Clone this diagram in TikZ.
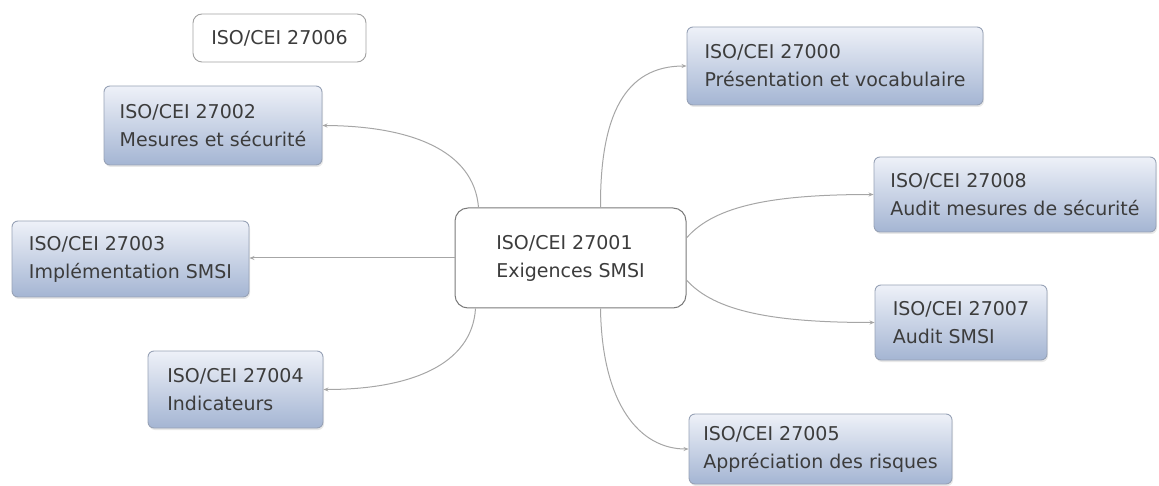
\documentclass[tikz,border=0pt]{standalone}
\usepackage{fontspec}
\newfontfamily\boxfont{DejaVu Sans}
\usetikzlibrary{arrows.meta,shadows}

\definecolor{txt}{HTML}{3C3C3C}
\definecolor{edgegray}{HTML}{A6A6A6}
\definecolor{boxtop}{HTML}{EEF1F8}
\definecolor{boxbot}{HTML}{A4B5D3}
\definecolor{boxline}{HTML}{97A2B6}
\definecolor{rootline}{HTML}{7A7A7A}

\tikzset{
  topic/.style={draw=boxline, line width=0.9pt, rounded corners=6pt,
    top color=boxtop, bottom color=boxbot, inner sep=0pt, align=left,
    text=txt, font=\boxfont\fontsize{19}{28}\selectfont,
    drop shadow={opacity=0.18, shadow xshift=1pt, shadow yshift=-2pt}},
  plain/.style={draw=rootline!70, line width=0.9pt, rounded corners=9pt,
    fill=white, inner sep=0pt, align=left, text=txt,
    font=\boxfont\fontsize{19}{28}\selectfont},
  root/.style={draw=rootline, line width=1pt, rounded corners=13pt,
    fill=white, inner sep=0pt, align=left, text=txt,
    font=\boxfont\fontsize{19}{28}\selectfont},
  link/.style={draw=edgegray, line width=1pt,
    -{Stealth[length=5pt,width=4pt]}}
}

\begin{document}
\begin{tikzpicture}[x=1pt,y=-1pt]
\useasboundingbox (0,0) rectangle (1159,486);

% central standard
\node[root, minimum width=231pt, minimum height=100pt] (c) at (570.5,258)
  {ISO/CEI 27001\\Exigences SMSI};

% surrounding standards
\node[plain, minimum width=173pt, minimum height=48pt] (m6) at (279.5,38)
  {ISO/CEI 27006};
\node[topic, minimum width=218pt, minimum height=79pt] (m2) at (213,125.5)
  {ISO/CEI 27002\\Mesures et sécurité};
\node[topic, minimum width=237pt, minimum height=76pt] (m3) at (130.5,259)
  {ISO/CEI 27003\\Implémentation SMSI};
\node[topic, minimum width=175pt, minimum height=77pt] (m4) at (235.5,389.5)
  {ISO/CEI 27004\\Indicateurs};
\node[topic, minimum width=296pt, minimum height=78pt] (m0) at (835,66)
  {ISO/CEI 27000\\Présentation et vocabulaire};
\node[topic, minimum width=282pt, minimum height=75pt] (m8) at (1015,194.5)
  {ISO/CEI 27008\\Audit mesures de sécurité};
\node[topic, minimum width=172pt, minimum height=75pt] (m7) at (961,322.5)
  {ISO/CEI 27007\\Audit SMSI};
\node[topic, minimum width=263pt, minimum height=70pt] (m5) at (820.5,449)
  {ISO/CEI 27005\\Appréciation des risques};

% connectors from the central node
\draw[link] ([xshift=-92pt]c.north) .. controls (474,150) and (410,126) .. (m2.east);
\draw[link] ([xshift=30pt]c.north) .. controls (600,115) and (625,66) .. (m0.west);
\draw[link] (c.west) -- (m3.east |- c.west);
\draw[link] ([xshift=-95pt]c.south) .. controls (472,365) and (410,389.5) .. (m4.east);
\draw[link] ([yshift=20pt]c.east) .. controls (715,205) and (775,194.5) .. (m8.west);
\draw[link] ([yshift=-22pt]c.east) .. controls (715,312) and (775,322.5) .. (m7.west);
\draw[link] ([xshift=30pt]c.south) .. controls (602,405) and (640,449) .. (m5.west);
\end{tikzpicture}
\end{document}
